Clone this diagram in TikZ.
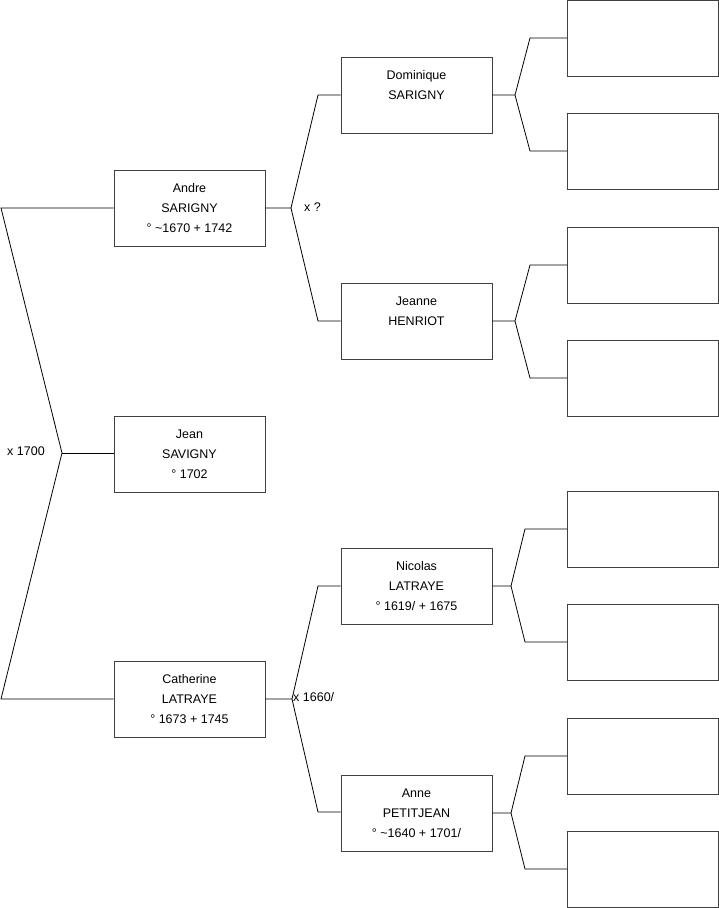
\documentclass[tikz,border=0pt]{standalone}
\usepackage{fontspec}
\setmainfont{Liberation Sans}
\begin{document}
\begin{tikzpicture}[x=1pt,y=-1pt,
  person/.style={draw=black!75,line width=0.9pt,rectangle,minimum width=151pt,minimum height=76pt,inner sep=0pt,align=center,font=\fontsize{12.5}{20}\selectfont},
  conn/.style={draw=black,line width=0.8pt},
  lbl/.style={font=\fontsize{12.5}{14}\selectfont,inner sep=0pt,anchor=west}]
\useasboundingbox (0,0) rectangle (719,908);
% generation 1
\node[person] (jean) at (189.5,454) {Jean\\SAVIGNY\\° 1702};
% generation 2
\node[person] (andre) at (189.5,208) {Andre\\SARIGNY\\° \textasciitilde1670 + 1742};
\node[person] (cath) at (189.5,699) {Catherine\\LATRAYE\\° 1673 + 1745};
% generation 3
\node[person] (dom) at (416.5,95) {Dominique\\SARIGNY\\\mbox{}};
\node[person] (jeanne) at (416.5,321) {Jeanne\\HENRIOT\\\mbox{}};
\node[person] (nic) at (416.5,586) {Nicolas\\LATRAYE\\° 1619/ + 1675};
\node[person] (anne) at (416.5,813) {Anne\\PETITJEAN\\° \textasciitilde1640 + 1701/};
% generation 4
\node[person] (e1) at (643,38) {};
\node[person] (e2) at (643,151) {};
\node[person] (e3) at (643,265) {};
\node[person] (e4) at (643,378) {};
\node[person] (e5) at (643,529) {};
\node[person] (e6) at (643,642) {};
\node[person] (e7) at (643,756) {};
\node[person] (e8) at (643,869) {};
% left bracket
\coordinate (lA) at (1,208);
\coordinate (lC) at (1,699);
\coordinate (j0) at (62,453);
\draw[conn] (andre.west) -- (lA) -- (j0) -- (lC) -- (cath.west);
\draw[conn] (j0) -- (jean.west |- j0);
\node[lbl] (m0) at (7,451) {x 1700};
% Andre's parents
\coordinate (jA) at (291,208);
\coordinate (jAt) at (318,95);
\coordinate (jAb) at (318,321);
\draw[conn] (andre.east) -- (jA) -- (jAt) -- (dom.west);
\draw[conn] (jA) -- (jAb) -- (jeanne.west);
\node[lbl] (mA) at (304,207) {x ?};
% Catherine's parents
\coordinate (jC) at (292,699);
\coordinate (jCt) at (318,586);
\coordinate (jCb) at (318,812);
\draw[conn] (cath.east) -- (jC) -- (jCt) -- (nic.west);
\draw[conn] (jC) -- (jCb) -- (anne.west |- jCb);
\node[lbl] (mC) at (293,697) {x 1660/};
% Dominique
\coordinate (jD) at (515,95);
\coordinate (jDt) at (530,38);
\coordinate (jDb) at (530,151);
\draw[conn] (dom.east) -- (jD) -- (jDt) -- (e1.west);
\draw[conn] (jD) -- (jDb) -- (e2.west);
% Jeanne
\coordinate (jJ) at (515,321);
\coordinate (jJt) at (530,265);
\coordinate (jJb) at (530,378);
\draw[conn] (jeanne.east) -- (jJ) -- (jJt) -- (e3.west);
\draw[conn] (jJ) -- (jJb) -- (e4.west);
% Nicolas
\coordinate (jN) at (511,586);
\coordinate (jNt) at (525,529);
\coordinate (jNb) at (525,642);
\draw[conn] (nic.east) -- (jN) -- (jNt) -- (e5.west);
\draw[conn] (jN) -- (jNb) -- (e6.west);
% Anne
\coordinate (jAn) at (511,813);
\coordinate (jAnt) at (525,756);
\coordinate (jAnb) at (525,869);
\draw[conn] (anne.east) -- (jAn) -- (jAnt) -- (e7.west);
\draw[conn] (jAn) -- (jAnb) -- (e8.west);
\end{tikzpicture}
\end{document}
